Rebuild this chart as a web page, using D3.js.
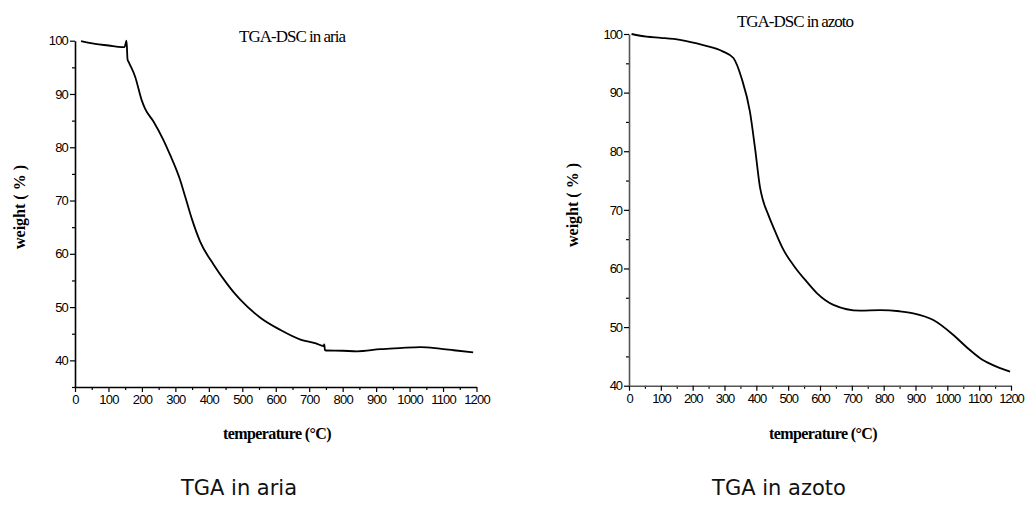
<!DOCTYPE html>
<html><head><meta charset="utf-8">
<script src="https://cdn.jsdelivr.net/npm/d3@7"></script>
<style>
html,body{margin:0;padding:0;background:#fff;}
svg{display:block;}
.tick text{font-family:"Liberation Sans",Arial,sans-serif;}
</style></head>
<body>
<svg id="c" width="1028" height="508"></svg>
<script>
// ---- data ----
const ariaTemp   = [18, 60, 100, 140, 148, 152, 154, 157, 162, 180, 199, 209, 235, 264, 284, 314, 329, 349, 374, 414, 454, 474, 494, 554, 614, 674, 720, 743, 745, 747, 750, 800, 843, 913, 970, 1033, 1090, 1132, 1190];
const ariaWeight = [99.9, 99.4, 99.1, 98.8, 98.8, 99.6, 100.0, 96.5, 95.8, 93.2, 88.9, 87.3, 84.8, 81.4, 78.6, 73.9, 70.8, 66.6, 62.3, 58.0, 54.4, 52.8, 51.4, 48.0, 45.7, 43.9, 43.2, 42.7, 43.0, 41.9, 41.85, 41.8, 41.7, 42.1, 42.3, 42.5, 42.2, 41.9, 41.5];
const azotoTemp   = [8, 55, 100, 160, 233, 296, 328, 354, 380, 396, 412, 420, 438, 460, 485, 520, 558, 590, 642, 726, 789, 850, 893, 956, 1019, 1060, 1103, 1140, 1197];
const azotoWeight = [100.0, 99.55, 99.35, 99.0, 98.1, 97.0, 95.9, 92.4, 86.7, 80.5, 73.7, 71.8, 69.1, 66.2, 63.2, 60.3, 57.75, 55.8, 53.8, 52.8, 52.9, 52.7, 52.35, 51.2, 48.65, 46.6, 44.7, 43.6, 42.4];
const xTicks = [0,100,200,300,400,500,600,700,800,900,1000,1100,1200];
const ariaYTicks = [40,50,60,70,80,90,100];
const azotoYTicks = [40,50,60,70,80,90,100];

const svg = d3.select("#c");
const SERIF = "'Liberation Serif','Times New Roman',serif";

function panel(cfg){
  const g = svg.append("g");
  const x = d3.scaleLinear().domain([0,1200]).range(cfg.xr);
  const y = d3.scaleLinear().domain(cfg.yd).range(cfg.yr);
  const xMinor = d3.range(50,1200,100);
  const yMinor = d3.range(35, cfg.yd[1], 10).filter(v=>v>=cfg.yd[0]);
  g.append("g").attr("transform",`translate(0,${cfg.yr[0]})`)
    .call(d3.axisBottom(x).tickValues(xMinor).tickSize(3).tickFormat(""))
    .call(a=>a.select(".domain").remove())
    .selectAll("line").attr("stroke","#000").attr("stroke-width",1.2);
  g.append("g").attr("transform",`translate(${cfg.xr[0]},0)`)
    .call(d3.axisLeft(y).tickValues(yMinor).tickSize(3).tickFormat(""))
    .call(a=>a.select(".domain").remove())
    .selectAll("line").attr("stroke","#000").attr("stroke-width",1.2);
  const xa = g.append("g").attr("transform",`translate(0,${cfg.yr[0]})`)
    .call(d3.axisBottom(x).tickValues(xTicks).tickSize(5).tickSizeOuter(0).tickPadding(3).tickFormat(d3.format("d")));
  xa.select(".domain").attr("stroke",cfg.axisColor).attr("stroke-width",1.6);
  xa.selectAll("line").attr("stroke","#000").attr("stroke-width",1.2);
  xa.selectAll("text").attr("font-size",cfg.tickFont).attr("letter-spacing",cfg.tickLS).attr("fill","#000");
  const ya = g.append("g").attr("transform",`translate(${cfg.xr[0]},0)`)
    .call(d3.axisLeft(y).tickValues(cfg.yTicks).tickSize(5).tickSizeOuter(0).tickPadding(2).tickFormat(d3.format("d")));
  ya.select(".domain").attr("stroke",cfg.axisColor).attr("stroke-width",1.6);
  ya.selectAll("line").attr("stroke","#000").attr("stroke-width",1.2);
  ya.selectAll("text").attr("font-size",cfg.tickFont).attr("letter-spacing",cfg.tickLS).attr("fill","#000");
  const line = d3.line().x((d,i)=>x(cfg.tx[i])).y(d=>y(d)).curve(d3.curveMonotoneX);
  g.append("path").datum(cfg.ty).attr("d",line).attr("fill","none")
    .attr("stroke","#000").attr("stroke-width",1.8).attr("stroke-linejoin","round");
  g.append("text").attr("x",cfg.title[1]).attr("y",cfg.title[2]).text(cfg.title[0])
    .attr("font-family",SERIF).attr("font-size",17)
    .attr("letter-spacing",-1).attr("text-anchor","middle");
  g.append("text").attr("transform",`translate(${cfg.ylab[0]},${cfg.ylab[1]}) rotate(-90)`)
    .text("weight ( % )").attr("font-family",SERIF)
    .attr("font-weight","bold").attr("font-size",16).attr("text-anchor","middle");
  g.append("text").attr("x",cfg.xlab[0]).attr("y",cfg.xlab[1]).text("temperature (°C)")
    .attr("font-family",SERIF)
    .attr("font-weight","bold").attr("font-size",16).attr("letter-spacing",-0.6).attr("text-anchor","middle");
  g.append("text").attr("x",cfg.cap[1]).attr("y",cfg.cap[2]).text(cfg.cap[0])
    .attr("font-family","'DejaVu Sans',Verdana,sans-serif").attr("font-size",21)
    .attr("text-anchor","middle").attr("fill","#111");
}

panel({xr:[75,476.5], yd:[35,100], yr:[387,40.7], yTicks:ariaYTicks, tx:ariaTemp, ty:ariaWeight,
  axisColor:"#000", tickFont:13, tickLS:-0.8,
  title:["TGA-DSC in aria",292,42], ylab:[25,207], xlab:[277,439], cap:["TGA in aria",239,495]});
panel({xr:[629,1011], yd:[40,100], yr:[385.7,34], yTicks:azotoYTicks, tx:azotoTemp, ty:azotoWeight,
  axisColor:"#555", tickFont:13, tickLS:-1.1,
  title:["TGA-DSC in azoto",795,27], ylab:[578,205], xlab:[823,439], cap:["TGA in azoto",779,495]});
</script>
</body></html>
